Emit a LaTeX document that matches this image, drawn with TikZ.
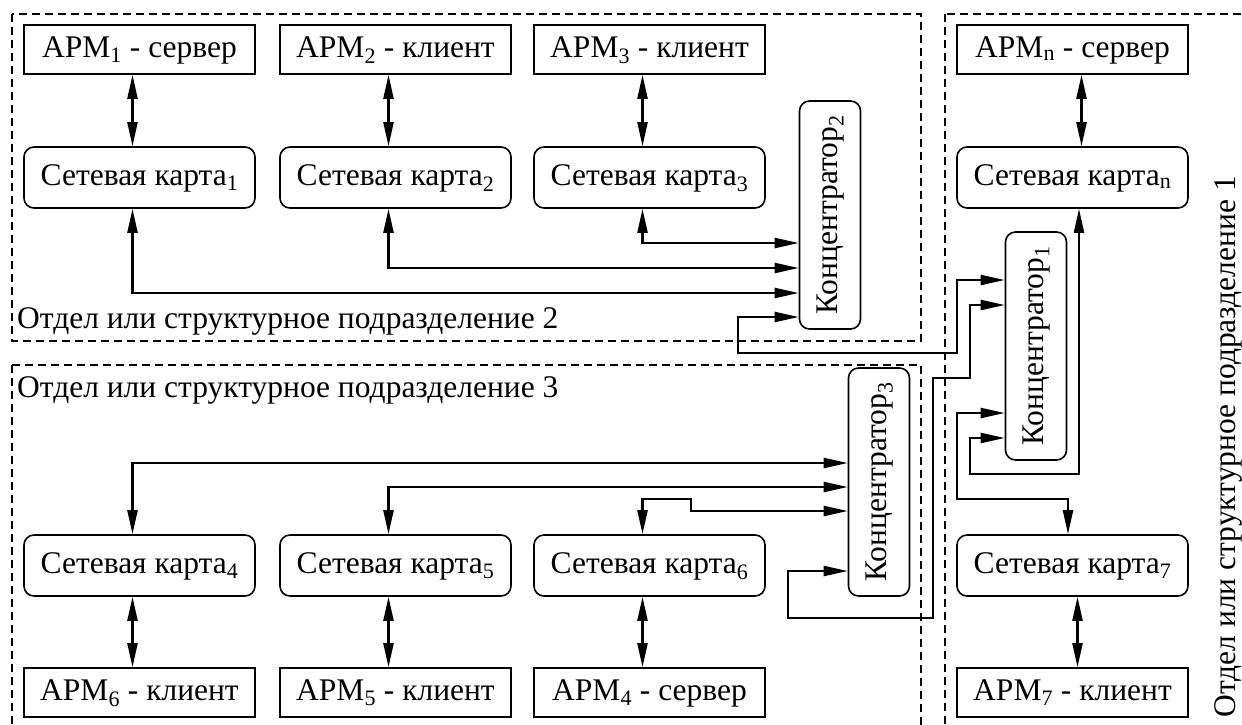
\documentclass[tikz,border=0pt]{standalone}
\usepackage{fontspec}
\setmainfont{Liberation Serif}
\usetikzlibrary{arrows.meta}

\begin{document}
\begin{tikzpicture}[x=1pt, y=-1pt,
    font=\fontsize{31.5}{36}\selectfont,
    apm/.style={draw, line width=1.6pt, minimum width=231, minimum height=49,
      text height=22, text depth=7, inner sep=0},
    card/.style={apm, rounded corners=10, minimum height=61},
    hub/.style={draw, line width=1.6pt, rounded corners=10, rotate=90,
      minimum width=228, minimum height=61, text height=22, text depth=7, inner sep=0},
    link/.style={line width=2.2pt,
      {Triangle[length=24pt,width=10pt]}-{Triangle[length=24pt,width=10pt]}},
    dept/.style={dash pattern=on 8pt off 5pt, line width=1.6pt},
    label/.style={inner sep=0}]
  \clip (0,0) rectangle (1242,724);

  % Departments
  \draw[dept] (12,14) rectangle (921,341);
  \draw[dept] (12,365) rectangle (921,760);
  \draw[dept] (945,14) rectangle (1270,760);
  \node[label, anchor=base west] (dep2) at (17,328) {Отдел или структурное подразделение 2};
  \node[label, anchor=base west] (dep3) at (17,397) {Отдел или структурное подразделение 3};
  \node[label, anchor=base east, rotate=90] (dep1) at (1235,176) {Отдел или структурное подразделение 1};

  % Nodes
  \node[apm] (apm1) at (139.5,49.5) {АРМ\textsubscript{1} - сервер};
  \node[apm] (apm2) at (395.5,49.5) {АРМ\textsubscript{2} - клиент};
  \node[apm] (apm3) at (649.5,49.5) {АРМ\textsubscript{3} - клиент};
  \node[apm] (apmn) at (1072.5,49.5) {АРМ\textsubscript{n} - сервер};
  \node[card] (card1) at (139.5,177.5) {Сетевая карта\textsubscript{1}};
  \node[card] (card2) at (395.5,177.5) {Сетевая карта\textsubscript{2}};
  \node[card] (card3) at (649.5,177.5) {Сетевая карта\textsubscript{3}};
  \node[card] (cardn) at (1072.5,177.5) {Сетевая карта\textsubscript{n}};
  \node[hub] (hub2) at (830,215) {Концентратор\textsubscript{2}};
  \node[hub] (hub1) at (1036,346) {Концентратор\textsubscript{1}};
  \node[hub] (hub3) at (879,482) {Концентратор\textsubscript{3}};
  \node[card] (card4) at (139.5,565.5) {Сетевая карта\textsubscript{4}};
  \node[card] (card5) at (395.5,565.5) {Сетевая карта\textsubscript{5}};
  \node[card] (card6) at (649.5,565.5) {Сетевая карта\textsubscript{6}};
  \node[card] (card7) at (1072.5,565.5) {Сетевая карта\textsubscript{7}};
  \node[apm] (apm6) at (139.5,692.5) {АРМ\textsubscript{6} - клиент};
  \node[apm] (apm5) at (395.5,692.5) {АРМ\textsubscript{5} - клиент};
  \node[apm] (apm4) at (649.5,692.5) {АРМ\textsubscript{4} - сервер};
  \node[apm] (apm7) at (1072.5,692.5) {АРМ\textsubscript{7} - клиент};

  % Edges
  \foreach \a/\b in {apm1/card1, apm2/card2, apm3/card3, card4/apm6, card5/apm5, card6/apm4}
    \draw[link] ([xshift=-7]\a.south) -- ([xshift=-7]\b.north);
  \draw[link] ([xshift=9]apmn.south) -- ([xshift=9]cardn.north);
  \draw[link] ([xshift=5]card7.south) -- ([xshift=5]apm7.north);

  \foreach \c/\y in {card1/293, card2/268, card3/243}
    \draw[link] ([xshift=-7]\c.south) |- (hub2.north |- 0,\y);
  \foreach \c/\y in {card4/463, card5/487}
    \draw[link] ([xshift=-7]\c.north) |- (hub3.north |- 0,\y);
  \draw[link] (hub3.north |- 0,511) -| (691,499) -| ([xshift=-7]card6.north);

  \draw[link] (hub2.north |- 0,317) -| (738,353) -| (957,280) -- (hub1.north |- 0,280);
  \draw[link] (hub1.north |- 0,305) -| (970,378) -| (933,618) -| (788,571) -- (hub3.north |- 0,571);
  \draw[link] (hub1.north |- 0,413) -| (957,499) -| ([xshift=-4.5]card7.north);
  \draw[link] (hub1.north |- 0,438) -| (970,474) -| ([xshift=6.5]cardn.south);
\end{tikzpicture}
\end{document}
